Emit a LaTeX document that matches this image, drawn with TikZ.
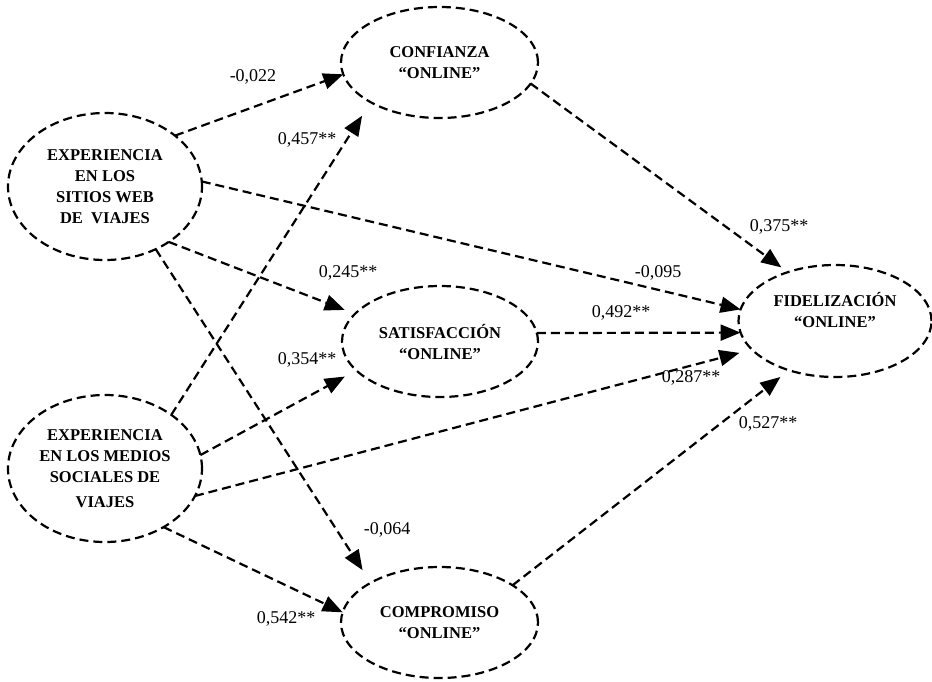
\documentclass[tikz,border=0pt]{standalone}
\usepackage{fontspec}
\setmainfont{Liberation Serif}
\usetikzlibrary{arrows.meta,positioning,shapes}

\begin{document}
\begin{tikzpicture}[
    x=1pt, y=-1pt,
    txt/.style={align=center, font=\fontsize{16.5}{21}\selectfont\bfseries},
    construct/.style={ellipse, draw, txt, line width=2.2pt, dash pattern=on 9pt off 5pt, inner sep=0pt, outer sep=0pt},
    coef/.style={inner sep=1pt, font=\fontsize{18}{20}\selectfont},
    arrow/.style={-{Triangle[length=20pt,width=16pt]}, line width=2.2pt, dash pattern=on 9pt off 5pt}
  ]
    \useasboundingbox (0,0) rectangle (932,681);

    \node[construct, minimum width=194pt, minimum height=147pt] (expweb) at (105,186.5) {EXPERIENCIA\\EN LOS\\SITIOS WEB\\DE~~VIAJES};
    \node[construct, minimum width=194pt, minimum height=147pt] (expsoc) at (105,468.5) {EXPERIENCIA\\EN LOS MEDIOS\\SOCIALES DE\\[4pt]VIAJES};

    \node[construct, minimum width=197pt, minimum height=111pt] (conf) at (439.5,62.5) {CONFIANZA\\“ONLINE”};
    \node[construct, minimum width=196pt, minimum height=111pt] (sat) at (440,341.5) {SATISFACCIÓN\\“ONLINE”};
    \node[construct, minimum width=197pt, minimum height=111pt] (comp) at (439.5,622.5) {COMPROMISO\\“ONLINE”};

    \node[construct, minimum width=193pt, minimum height=112pt,
      label={[txt, yshift=11pt]center:{FIDELIZACIÓN\\“ONLINE”}}] (fid) at (835,321) {};

    % path coefficients
    \node[coef] (c-wconf) at (253,77) {-0,022};
    \node[coef] (c-wfid) at (658,273) {-0,095};
    \node[coef] (c-wsat) at (348,273) {0,245**};
    \node[coef] (c-wcomp) at (387,530) {-0,064};
    \node[coef] (c-sconf) at (307,140) {0,457**};
    \node[coef] (c-ssat) at (307,360) {0,354**};
    \node[coef] (c-sfid) at (691,378) {0,287**};
    \node[coef] (c-scomp) at (286,619) {0,542**};
    \node[coef] (c-satfid) at (621,313) {0,492**};
    \node[coef] (c-conffid) at (779,227) {0,375**};
    \node[coef] (c-compfid) at (768,424) {0,527**};

    \draw[arrow] (expweb.36) -- (conf.187);
    \draw[arrow] (expweb.3) -- (fid.173);
    \draw[arrow, shorten >=11pt] (expweb.-41) -- (sat.162);
    \draw[arrow, shorten >=15pt] (expweb.-51) -- (comp.150);

    \draw[arrow, shorten >=16pt] (expsoc.39) -- (conf.210);
    \draw[arrow, shorten >=13pt] (expsoc.8) -- (sat.199);
    \draw[arrow, shorten >=13pt] (expsoc.-17) -- (fid.199);
    \draw[arrow] (expsoc.-45) -- (comp.174);

    \draw[arrow] (sat.5) -- (fid.187);
    \draw[arrow, shorten >=8pt] (conf.-13) -- (fid.134);
    \draw[arrow, shorten >=11pt] (comp.27) -- (fid.227);

  \end{tikzpicture}
\end{document}
